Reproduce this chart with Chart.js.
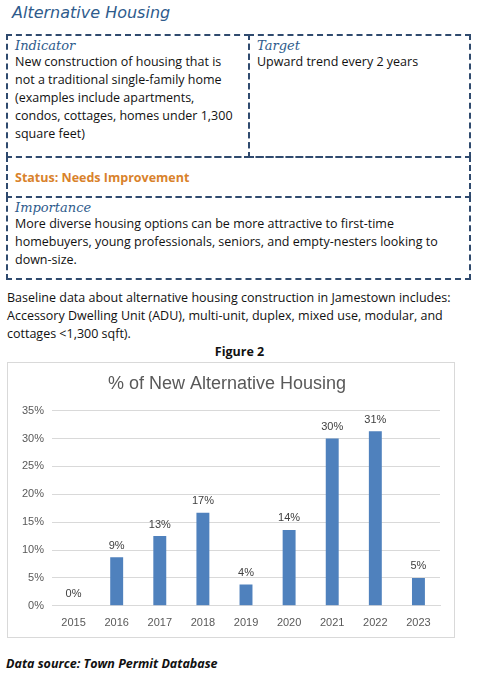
<!DOCTYPE html>
<html>
<head>
<meta charset="utf-8">
<script src="https://cdn.jsdelivr.net/npm/chart.js@4"></script>
<style>
  body { margin: 0; width: 479px; height: 683px; background: #fff; font-family: "Open Sans", sans-serif; color: #111; position: relative; overflow: hidden; }
  .title { position: absolute; left: 12px; top: 3px; font-size: 16px; font-style: italic; color: #2e5b8c; font-family: "DejaVu Sans", sans-serif; }
  .box { position: absolute; border: 2px dashed #2f4a6e; box-sizing: border-box; }
  .head { font-family: "DejaVu Serif", serif; font-style: italic; color: #2e5b8c; font-size: 13px; }
  .txt { font-size: 12.5px; line-height: 18px; }
  .para { position: absolute; left: 7px; top: 289px; width: 470px; font-size: 12.5px; line-height: 18px; }
  .fig { position: absolute; left: 0; width: 479px; top: 343px; text-align: center; font-weight: bold; font-size: 12.5px; }
  .chartbox { position: absolute; left: 7px; top: 362px; width: 448px; height: 276px; border: 1px solid #d9d9d9; box-sizing: border-box; }
  .src { position: absolute; left: 6px; top: 655px; font-weight: bold; font-style: italic; font-size: 12.5px; }
</style>
</head>
<body>
<div class="title">Alternative Housing</div>
<div class="box" style="left:6px;top:34px;width:244px;height:124px;padding:2px 7px;">
  <div class="head">Indicator</div>
  <div class="txt">New construction of housing that is not a traditional single-family home (examples include apartments, condos, cottages, homes under 1,300 square feet)</div>
</div>
<div class="box" style="left:248px;top:34px;width:223px;height:124px;padding:2px 7px;">
  <div class="head">Target</div>
  <div class="txt">Upward trend every 2 years</div>
</div>
<div class="box" style="left:6px;top:156px;width:465px;height:42px;padding:11px 7px;">
  <div class="txt" style="color:#d9822b;font-weight:bold;">Status: Needs Improvement</div>
</div>
<div class="box" style="left:6px;top:196px;width:465px;height:84px;padding:2px 7px;">
  <div class="head">Importance</div>
  <div class="txt">More diverse housing options can be more attractive to first-time homebuyers, young professionals, seniors, and empty-nesters looking to down-size.</div>
</div>
<div class="para">Baseline data about alternative housing construction in Jamestown includes: Accessory Dwelling Unit (ADU), multi-unit, duplex, mixed use, modular, and cottages &lt;1,300 sqft).</div>
<div class="fig">Figure 2</div>
<div class="chartbox"><canvas id="c"></canvas></div>
<div class="src">Data source: Town Permit Database</div>
<script>
const years = ["2015", "2016", "2017", "2018", "2019", "2020", "2021", "2022", "2023"];
const shares = [0, 8.7, 12.5, 16.7, 3.8, 13.6, 30, 31.3, 5];
const shareLabels = ["0%", "9%", "13%", "17%", "4%", "14%", "30%", "31%", "5%"];

// draw value labels above bars
const barLabels = {
  id: "barLabels",
  afterDatasetsDraw(chart) {
    const ctx = chart.ctx;
    const meta = chart.getDatasetMeta(0);
    ctx.save();
    ctx.font = "11px 'Liberation Sans', sans-serif";
    ctx.fillStyle = "#404040";
    ctx.textAlign = "center";
    ctx.textBaseline = "bottom";
    meta.data.forEach((bar, i) => ctx.fillText(shareLabels[i], bar.x, bar.y - 6));
    ctx.restore();
  },
};

new Chart(document.getElementById("c"), {
  type: "bar",
  data: { labels: years, datasets: [{ data: shares, backgroundColor: "#4f81bd", barPercentage: 0.3, categoryPercentage: 1 }] },
  options: {
    responsive: true,
    maintainAspectRatio: false,
    animation: false,
    layout: { padding: { left: 6, right: 14, top: 4, bottom: 4 } },
    plugins: {
      legend: { display: false },
      tooltip: { enabled: false },
      title: { display: true, text: "% of New Alternative Housing", color: "#595959", font: { family: "Liberation Sans", size: 18, weight: "normal" }, padding: { top: 6, bottom: 16 } },
    },
    scales: {
      x: { grid: { display: false }, border: { color: "#d9d9d9" }, ticks: { color: "#595959", font: { family: "Liberation Sans", size: 11 } } },
      y: {
        min: 0, max: 35,
        border: { display: false },
        grid: { color: "#d9d9d9", drawTicks: false },
        ticks: { stepSize: 5, padding: 8, color: "#595959", font: { family: "Liberation Sans", size: 11 }, callback: (v) => v + "%" },
      },
    },
  },
  plugins: [barLabels],
});
</script>
</body>
</html>
